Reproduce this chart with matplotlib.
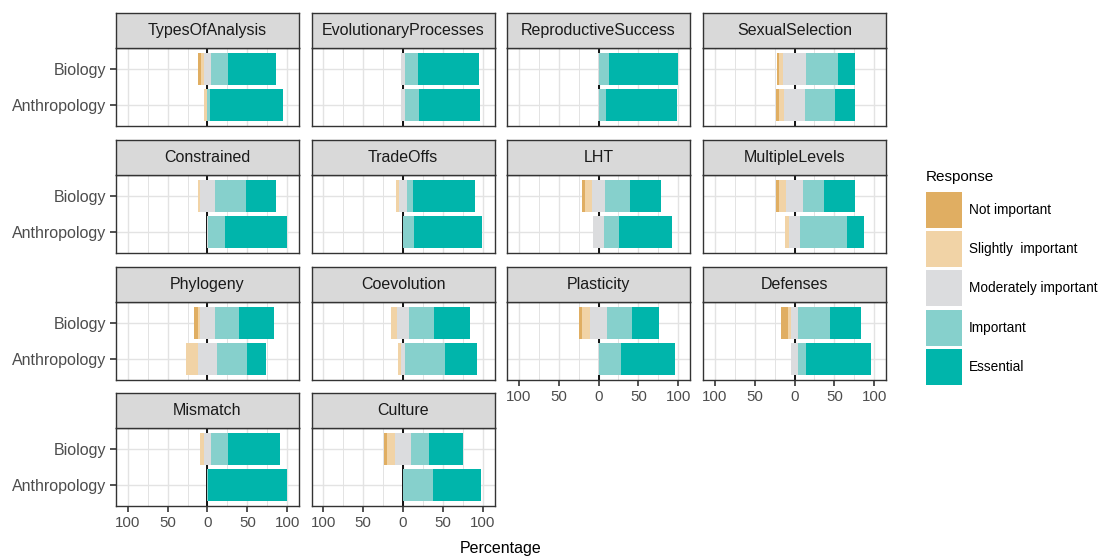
import matplotlib
matplotlib.use("Agg")
import matplotlib.pyplot as plt
from matplotlib.patches import Rectangle
from matplotlib.ticker import FixedLocator

plt.rcParams['font.family'] = ['Liberation Sans', 'DejaVu Sans']

# ---------------- data ----------------
facets = ["TypesOfAnalysis", "EvolutionaryProcesses", "ReproductiveSuccess", "SexualSelection",
          "Constrained", "TradeOffs", "LHT", "MultipleLevels",
          "Phylogeny", "Coevolution", "Plasticity", "Defenses",
          "Mismatch", "Culture"]
groups = ["Biology", "Anthropology"]
levels = ["Not important", "Slightly  important", "Moderately important", "Important", "Essential"]
colors = ["#E0AE62", "#F1D3A6", "#DBDCDE", "#86D0CC", "#00B5AB"]

# percentages per facet (order of facets above)
bio_not_important = [4, 0, 0, 3, 0, 0, 3.5, 3.5, 4.5, 0, 3.5, 8, 0, 4]
bio_slightly      = [3.5, 0, 0, 4, 3, 4, 9, 9, 3, 8, 10, 4, 5, 9]
bio_moderately    = [9, 4, 1.5, 30, 18, 9, 17, 21, 18, 14, 21, 9, 9, 21]
bio_important     = [21, 17, 12, 40, 39, 8, 31, 27, 30, 32.5, 31, 40, 21, 22]
bio_essential     = [61, 77, 87, 21, 38.5, 78, 39, 38.5, 44, 45, 34, 38.5, 65.5, 43]

ant_not_important = [0, 0, 0, 3, 0, 0, 0, 0, 0, 0, 0, 0, 0, 0]
ant_slightly      = [4, 0, 0, 6.5, 0, 0, 0, 5, 15, 4.5, 0, 0, 0, 0]
ant_moderately    = [0, 4, 1.5, 27, 1, 1, 13, 13.5, 23, 4, 1, 8, 0, 1]
ant_important     = [3, 17.5, 8.5, 37, 22, 13, 19, 59.5, 38.5, 50.5, 28, 10, 1, 37.5]
ant_essential     = [92, 77, 90, 26, 77, 86, 67.5, 21.5, 23, 41, 68, 82, 99, 60]

x_ticks = [-100, -50, 0, 50, 100]
x_minor = [-75, -25, 25, 75]

# ---------------- layout ----------------
W, H = 1100, 557
fig = plt.figure(figsize=(W / 100, H / 100), dpi=100)

col_x = [116, 311.5, 507, 703]
row_top = [48, 175, 302, 428]
panel_w, panel_h, strip_h = 183, 78, 35

def px_axes(x0, y0, w, h):
    return fig.add_axes([x0 / W, 1 - (y0 + h) / H, w / W, h / H])

border = "#333333"
grid_c = "#E3E3E3"
ypos = {"Biology": 1, "Anthropology": 0}

series = {
    "Biology": [bio_not_important, bio_slightly, bio_moderately, bio_important, bio_essential],
    "Anthropology": [ant_not_important, ant_slightly, ant_moderately, ant_important, ant_essential],
}

n = len(facets)
for i, name in enumerate(facets):
    r, c = divmod(i, 4)
    x0, y0 = col_x[c], row_top[r]
    ax = px_axes(x0, y0, panel_w, panel_h)
    sax = px_axes(x0, y0 - strip_h, panel_w, strip_h)

    # strip
    sax.set_facecolor("#D9D9D9")
    sax.set_xticks([]); sax.set_yticks([])
    for sp in sax.spines.values():
        sp.set_color(border); sp.set_linewidth(1.0)
    sax.text(0.5, 0.5, name, ha="center", va="center", fontsize=11.5, color="#1A1A1A",
             transform=sax.transAxes)

    # grid
    ax.set_xlim(-115, 115)
    ax.set_ylim(-0.6, 1.6)
    ax.set_xticks(x_ticks)
    ax.xaxis.set_minor_locator(FixedLocator(x_minor))
    ax.set_yticks([ypos[g] for g in groups])
    ax.grid(True, which="major", color=grid_c, lw=1.0, zorder=0)
    ax.grid(True, which="minor", axis="x", color=grid_c, lw=0.7, zorder=0)
    ax.set_axisbelow(True)
    ax.axvline(0, color="black", lw=1.3, zorder=1)

    for g in groups:
        ni, si, mo, im, es = [s[i] for s in series[g]]
        y = ypos[g]
        half = mo / 2.0
        segs = [
            (-half - si - ni, ni, colors[0]),
            (-half - si, si, colors[1]),
            (-half, mo, colors[2]),
            (half, im, colors[3]),
            (half + im, es, colors[4]),
        ]
        for left, w, col in segs:
            if w > 0:
                ax.barh(y, w, left=left, height=0.9, color=col, lw=0, zorder=2)

    for sp in ax.spines.values():
        sp.set_color(border); sp.set_linewidth(1.0); sp.set_zorder(5)

    bottom = (i + 4) >= n
    left_col = (c == 0)
    ax.tick_params(axis="both", which="minor", length=0)
    ax.tick_params(axis="x", which="major", length=4.5 if bottom else 0, width=1.2,
                   color=border, labelsize=10.8, labelcolor="#4D4D4D", pad=2.5,
                   labelbottom=bottom)
    ax.tick_params(axis="y", which="major", length=4.5 if left_col else 0, width=1.2,
                   color=border, labelsize=11.5, labelcolor="#4D4D4D", pad=2.5,
                   labelleft=left_col)
    ax.set_xticklabels([str(abs(t)) for t in x_ticks])
    ax.set_yticklabels(groups)

# x title
fig.text(501 / W, 1 - 548 / H, "Percentage", ha="center", va="center", fontsize=11.5, color="black")

# legend
fig.text(926 / W, 1 - 177 / H, "Response", ha="left", va="center", fontsize=11, color="black")
for k, (lab, col) in enumerate(zip(levels, colors)):
    top = 192 + 39.2 * k
    fig.patches.append(Rectangle((926 / W, 1 - (top + 36) / H), 36 / W, 36 / H,
                                 transform=fig.transFigure, facecolor=col, edgecolor="none"))
    fig.text(969 / W, 1 - (top + 18) / H, lab, ha="left", va="center", fontsize=9.8, color="black")

fig.savefig("out.png", dpi=100)
